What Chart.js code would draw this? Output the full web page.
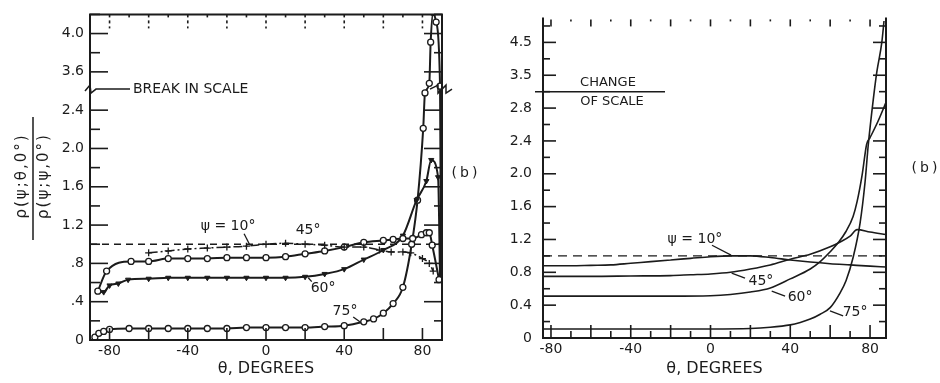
<!DOCTYPE html>
<html>
<head>
<meta charset="utf-8">
<script src="https://cdn.jsdelivr.net/npm/chart.js@4.4.1/dist/chart.umd.min.js"></script>
<style>
  html, body { margin: 0; background: #fff; }
  #wrap { position: relative; width: 940px; height: 383px; overflow: hidden; }
  .panel { position: absolute; top: 0; height: 383px; }
  #pa { left: 0; width: 480px; }
  #pb { left: 480px; width: 460px; }
</style>
</head>
<body>
<div id="wrap">
  <div class="panel" id="pa"><canvas id="left" width="480" height="383"></canvas></div>
  <div class="panel" id="pb"><canvas id="right" width="460" height="383"></canvas></div>
</div>
<script>
// ---- left panel (measured points) ----
const thL10 = [-60, -50, -40, -30, -20, -10, 0, 10, 20, 30, 40, 50, 58, 64, 70, 74, 80, 83.5, 85.5];
const vL10  = [0.91, 0.93, 0.95, 0.96, 0.97, 0.98, 1.00, 1.01, 1.00, 0.99, 0.97, 0.97, 0.94, 0.92, 0.92, 0.91, 0.85, 0.80, 0.72];

const thL45 = [-86, -81.5, -69, -60, -50, -40, -30, -20, -10, 0, 10, 20, 30, 40, 50, 60, 65, 70, 75, 79.5, 82, 83.5, 85, 88.5];
const vL45  = [0.51, 0.72, 0.82, 0.82, 0.85, 0.85, 0.85, 0.86, 0.86, 0.86, 0.87, 0.90, 0.93, 0.97, 1.02, 1.04, 1.05, 1.06, 1.06, 1.10, 1.12, 1.12, 0.99, 0.63];

const thL60 = [-86, -83, -80, -75.5, -70.5, -60, -50, -40, -30, -20, -10, 0, 10, 20, 30, 40, 50, 60, 70, 77, 82, 84.5, 88, 89];
const vL60  = [0.51, 0.50, 0.57, 0.59, 0.63, 0.64, 0.65, 0.65, 0.65, 0.65, 0.65, 0.65, 0.65, 0.66, 0.69, 0.74, 0.84, 0.94, 1.09, 1.46, 1.66, 1.88, 1.70, 0.64];

const thL75 = [-87.5, -85.5, -83, -80, -70, -60, -50, -40, -30, -20, -10, 0, 10, 20, 30, 40, 50, 55, 60, 65, 70, 74.5, 77.5, 80.4, 81.3, 83.5, 84.2, 85.5, 87, 89, 89.5];
const vL75  = [0.03, 0.07, 0.09, 0.11, 0.12, 0.12, 0.12, 0.12, 0.12, 0.12, 0.13, 0.13, 0.13, 0.13, 0.14, 0.15, 0.19, 0.22, 0.28, 0.38, 0.55, 1.00, 1.46, 2.21, 2.58, 3.48, 3.91, 4.22, 4.12, 3.45, 0.64];

const xTicksL = [-80, -40, 0, 40, 80];
const yTicksL = [0, 0.4, 0.8, 1.2, 1.6, 2.0, 2.4, 3.6, 4.0];
const yTextL  = ['0', '.4', '.8', '1.2', '1.6', '2.0', '2.4', '3.6', '4.0'];
const breakL  = { below: 2.62, above: 3.42 };   // scale jumps from 2.62 to 3.42

// ---- right panel (computed curves) ----
const thR10 = [-84, -70, -60, -50, -40, -30, -20, -10, 0, 10, 20, 30, 40, 50, 60, 70, 80, 88];
const vR10  = [0.88, 0.88, 0.885, 0.89, 0.91, 0.93, 0.95, 0.97, 0.99, 1.0, 1.0, 0.98, 0.95, 0.925, 0.905, 0.89, 0.875, 0.865];

const thR45 = [-84, -60, -40, -20, -10, 0, 10, 20, 30, 40, 50, 60, 65, 70, 73.5, 80, 88];
const vR45  = [0.75, 0.75, 0.755, 0.76, 0.77, 0.78, 0.80, 0.84, 0.89, 0.96, 1.02, 1.11, 1.17, 1.24, 1.32, 1.29, 1.26];

const thR60 = [-84, -40, -20, 0, 10, 20, 30, 40, 50, 55, 60, 64, 68, 71.5, 73.5, 76, 78.3, 80, 84, 88];
const vR60  = [0.51, 0.51, 0.51, 0.515, 0.53, 0.56, 0.61, 0.72, 0.84, 0.93, 1.05, 1.16, 1.30, 1.48, 1.66, 1.98, 2.36, 2.44, 2.64, 2.87];

const thR75 = [-84, -40, 0, 20, 30, 40, 45, 50, 55, 60, 65, 68, 71.5, 75, 77.5, 79.1, 81.6, 83.4, 85.9, 87];
const vR75  = [0.11, 0.11, 0.11, 0.115, 0.13, 0.16, 0.19, 0.23, 0.29, 0.37, 0.55, 0.70, 0.98, 1.40, 1.90, 2.35, 2.90, 3.60, 4.50, 5.15];

const xTicksR = [-80, -40, 0, 40, 80];
const yTicksR = [0, 0.4, 0.8, 1.2, 1.6, 2.0, 2.4, 2.8, 3.5, 4.5];
const yTextR  = ['0', '0.4', '0.8', '1.2', '1.6', '2.0', '2.4', '2.8', '3.5', '4.5'];
const breakR  = 3.0;      // change of scale
const stretchR = 2.5;     // upper part is 2.5x compressed

const refLine = 1.0;

const INK = '#1b1b1b';
const FONT = '"DejaVu Sans", sans-serif';

function toL(v) { return v >= breakL.above ? v - (breakL.above - breakL.below) : v; }
function toR(v) { return v > breakR ? breakR + (v - breakR) / stretchR : v; }
const pts = (th, v, f) => th.map((t, i) => ({ x: t, y: f(v[i]) }));

function seg(ctx, x1, y1, x2, y2) {
  ctx.beginPath(); ctx.moveTo(x1, y1); ctx.lineTo(x2, y2); ctx.stroke();
}
function txt(ctx, s, x, y, size, opt = {}) {
  ctx.save();
  ctx.font = size + 'px ' + FONT;
  ctx.fillStyle = INK;
  ctx.textAlign = opt.align || 'center';
  ctx.textBaseline = 'middle';
  if (opt.spacing) ctx.letterSpacing = opt.spacing;
  ctx.translate(x, y);
  if (opt.rot) ctx.rotate(opt.rot);
  ctx.fillText(s, 0, 0);
  ctx.restore();
}

// frame + inward tick marks
function frame(chart, f) {
  const { ctx, chartArea: a, scales: { x, y } } = chart;
  ctx.save();
  ctx.strokeStyle = INK;
  ctx.lineWidth = 2;
  seg(ctx, a.left, a.top - f.over, a.left, a.bottom + 1);
  seg(ctx, a.left - 1, a.bottom, a.right + 1, a.bottom);
  seg(ctx, a.right, a.top - f.over, a.right, a.bottom + 1);
  if (f.topLine) seg(ctx, a.left - 1, a.top, a.right + 1, a.top);

  ctx.lineWidth = 1.6;
  for (let i = 0; i * 0.2 <= y.max + 1e-6; i++) {
    const d = +(i * 0.2).toFixed(1);
    if (f.skipY.includes(d)) continue;
    const py = y.getPixelForValue(d);
    const major = f.majorY.some(m => Math.abs(m - d) < 1e-6);
    seg(ctx, a.left, py, a.left + (major ? f.yLen[0] : f.yLen[1]), py);
    seg(ctx, a.right, py, a.right - (major ? f.yLen[2] : f.yLen[3]), py);
  }
  for (let t = -80; t <= 80; t += 10) {
    const px = x.getPixelForValue(t);
    const major = t % 20 === 0;
    ctx.setLineDash(f.topDash);
    seg(ctx, px, a.top, px, a.top + (major ? f.xLen[0] : f.xLen[1]));
    ctx.setLineDash([]);
    const bl = major ? f.xLen[2] : f.xLen[3];
    if (bl) seg(ctx, px, a.bottom, px, a.bottom - bl);
  }
  ctx.restore();
}

function notes(chart, list, size) {
  const { ctx, scales: { x, y } } = chart;
  ctx.save();
  ctx.strokeStyle = INK; ctx.lineWidth = 1.3;
  list.forEach(n => {
    txt(ctx, n.s, x.getPixelForValue(n.at[0]), y.getPixelForValue(n.at[1]), size);
    if (n.lead) seg(ctx, x.getPixelForValue(n.lead[0][0]), y.getPixelForValue(n.lead[0][1]),
                         x.getPixelForValue(n.lead[1][0]), y.getPixelForValue(n.lead[1][1]));
  });
  ctx.restore();
}

const notesL = [
  { s: 'ψ = 10°', at: [-19.4, 1.19], lead: [[-11.2, 1.11], [-8.2, 0.99]] },
  { s: '45°', at: [21.5, 1.15] },
  { s: '60°', at: [29.2, 0.54], lead: [[23.4, 0.61], [21.6, 0.65]] },
  { s: '75°', at: [40.4, 0.30], lead: [[44.6, 0.24], [48, 0.19]] }
];
const notesR = [
  { s: 'ψ = 10°', at: [-7.8, 1.20], lead: [[0.75, 1.13], [10.3, 1.01]] },
  { s: '45°', at: [25.3, 0.69], lead: [[17.3, 0.73], [10.6, 0.79]] },
  { s: '60°', at: [44.9, 0.49], lead: [[37.4, 0.51], [30.7, 0.57]] },
  { s: '75°', at: [72.5, 0.31], lead: [[66.5, 0.27], [59.9, 0.33]] }
];

function baseScales(xMin, xMax, xTicks, yMax, yTicks, yText, f, xH, yW, yPad) {
  return {
    x: {
      type: 'linear', min: xMin, max: xMax,
      afterBuildTicks: s => { s.ticks = xTicks.map(v => ({ value: v })); },
      afterFit: s => { s.height = xH; },
      ticks: { autoSkip: false, maxRotation: 0, padding: 3, color: INK,
               font: { family: FONT, size: 14 }, callback: v => String(v) },
      grid: { display: false, drawTicks: false },
      border: { display: false },
      title: { display: true, text: 'θ, DEGREES', color: INK,
               font: { family: FONT, size: 16 }, padding: { top: 0, bottom: 5 } }
    },
    y: {
      type: 'linear', min: 0, max: yMax,
      afterBuildTicks: s => { s.ticks = yTicks.map(v => ({ value: f(v) })); },
      afterFit: s => { s.width = yW; },
      ticks: { autoSkip: false, padding: yPad, color: INK,
               font: { family: FONT, size: 14 }, callback: (v, i) => yText[i] },
      grid: { display: false, drawTicks: false },
      border: { display: false }
    }
  };
}

const common = {
  responsive: false,
  animation: false,
  events: [],
  plugins: { legend: { display: false }, tooltip: { enabled: false } },
  elements: { line: { cubicInterpolationMode: 'monotone', borderColor: INK },
              point: { borderColor: INK } }
};

// LEFT
new Chart(document.getElementById('left'), {
  type: 'line',
  data: {
    datasets: [
      { data: pts(thL10, vL10, toL), borderWidth: 1.5, borderDash: [9, 3, 2, 3],
        pointStyle: 'cross', pointRadius: 3.5, pointBorderWidth: 1.3 },
      { data: pts(thL45, vL45, toL), borderWidth: 2, pointStyle: 'circle', pointRadius: 3,
        pointBackgroundColor: '#fff', pointBorderWidth: 1.3 },
      { data: pts(thL60, vL60, toL), borderWidth: 2, pointStyle: 'triangle', rotation: 180,
        pointRadius: 3, pointBackgroundColor: INK, pointBorderWidth: 1 },
      { data: pts(thL75, vL75, toL), borderWidth: 2, pointStyle: 'circle', pointRadius: 3,
        pointBackgroundColor: '#fff', pointBorderWidth: 1.3 },
      { data: [{ x: -90, y: refLine }, { x: 90, y: refLine }], borderWidth: 1.4,
        borderDash: [7, 5], pointRadius: 0 }
    ]
  },
  options: Object.assign({}, common, {
    layout: { padding: { left: 40, top: 13, right: 38, bottom: 0 } },
    scales: baseScales(-90, 90, xTicksL, 3.4, yTicksL, yTextL, toL, 43, 50, 6)
  }),
  plugins: [{
    id: 'deco',
    afterDatasetsDraw(chart) {
      const { ctx, chartArea: a, scales: { y } } = chart;
      frame(chart, { over: 0, topLine: true, skipY: [2.6], majorY: yTicksL.map(toL),
                     yLen: [18, 10, 18, 8], xLen: [14, 5, 12, 0], topDash: [3, 3] });
      notes(chart, notesL, 14);
      // break in scale
      const yb = y.getPixelForValue(breakL.below);
      ctx.save();
      ctx.strokeStyle = INK; ctx.lineWidth = 1.5;
      ctx.beginPath();
      ctx.moveTo(a.left - 5, yb + 2); ctx.lineTo(a.left, yb - 4);
      ctx.lineTo(a.left + 1, yb + 4); ctx.lineTo(a.left + 6, yb);
      ctx.lineTo(a.left + 40, yb);
      ctx.stroke();
      ctx.beginPath();
      ctx.moveTo(a.right - 12, yb); ctx.lineTo(a.right - 4, yb - 4); ctx.lineTo(a.right - 4, yb + 4);
      ctx.lineTo(a.right + 4, yb - 4); ctx.lineTo(a.right + 4, yb + 4); ctx.lineTo(a.right + 10, yb);
      ctx.stroke();
      ctx.restore();
      txt(ctx, 'BREAK IN SCALE', a.left + 43, yb, 14, { align: 'left' });
      // y title as a fraction
      txt(ctx, 'ρ(ψ;θ,0°)', 22, 176, 15, { rot: -Math.PI / 2, spacing: '2px' });
      ctx.save(); ctx.strokeStyle = INK; ctx.lineWidth = 1.5;
      seg(ctx, 33, 117, 33, 240); ctx.restore();
      txt(ctx, 'ρ(ψ;ψ,0°)', 44, 176, 15, { rot: -Math.PI / 2, spacing: '2px' });
      txt(ctx, '(b)', 466, 173, 14, { spacing: '3px' });
    }
  }]
});

// RIGHT
new Chart(document.getElementById('right'), {
  type: 'line',
  data: {
    datasets: [
      { data: pts(thR10, vR10, toR), borderWidth: 1.6, pointRadius: 0 },
      { data: pts(thR45, vR45, toR), borderWidth: 1.6, pointRadius: 0 },
      { data: pts(thR60, vR60, toR), borderWidth: 1.6, pointRadius: 0 },
      { data: pts(thR75, vR75, toR), borderWidth: 1.6, pointRadius: 0 },
      { data: [{ x: -84, y: refLine }, { x: 88, y: refLine }], borderWidth: 1.4,
        borderDash: [9, 6], pointRadius: 0 }
    ]
  },
  options: Object.assign({}, common, {
    layout: { padding: { left: 18, top: 10, right: 54, bottom: 0 } },
    scales: baseScales(-84, 88, xTicksR, 3.88, yTicksR, yTextR, toR, 45, 45, 11)
  }),
  plugins: [{
    id: 'deco',
    afterDatasetsDraw(chart) {
      const { ctx, chartArea: a, scales: { y } } = chart;
      frame(chart, { over: 2, topLine: false, skipY: [], majorY: yTicksR.map(toR),
                     yLen: [13, 7, 13, 7], xLen: [7, 2, 13, 7], topDash: [] });
      notes(chart, notesR, 14);
      const yc = y.getPixelForValue(breakR);
      ctx.save(); ctx.strokeStyle = INK; ctx.lineWidth = 1.5;
      seg(ctx, a.left - 8, yc, a.left + 122, yc); ctx.restore();
      txt(ctx, 'CHANGE', a.left + 65, yc - 9, 13);
      txt(ctx, 'OF SCALE', a.left + 69, yc + 10, 13);
      txt(ctx, '(b)', 446, 168, 14, { spacing: '3px' });
    }
  }]
});
</script>
</body>
</html>
